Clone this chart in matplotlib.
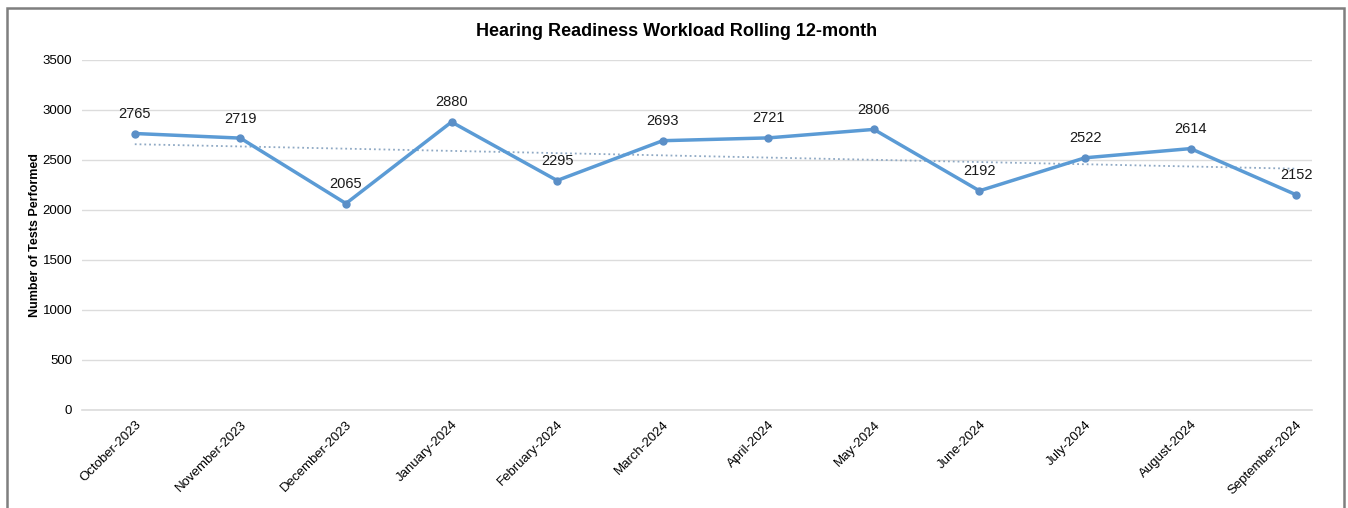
import numpy as np
import matplotlib
matplotlib.use('Agg')
import matplotlib.pyplot as plt
from matplotlib.patches import Rectangle

plt.rcParams['font.family'] = ['Liberation Sans', 'DejaVu Sans']

# Daten
months = ['October-2023', 'November-2023', 'December-2023', 'January-2024',
          'February-2024', 'March-2024', 'April-2024', 'May-2024',
          'June-2024', 'July-2024', 'August-2024', 'September-2024']
tests = [2765, 2719, 2065, 2880, 2295, 2693, 2721, 2806, 2192, 2522, 2614, 2152]
yticks = [0, 500, 1000, 1500, 2000, 2500, 3000, 3500]

fig = plt.figure(figsize=(13.48, 5.08), dpi=100)
ax = fig.add_axes([82 / 1348, 1 - 410 / 508, (1312 - 82) / 1348, 350 / 508])

x = np.arange(len(months))

# linearer Trend
k, d = np.polyfit(x, tests, 1)
ax.plot(x, k * x + d, linestyle=':', color='#8fa9c4', linewidth=1.3, zorder=2)

ax.plot(x, tests, color='#5b9bd5', linewidth=2.5, marker='o', markersize=5,
        markerfacecolor='#5b8fc7', markeredgecolor='#5b8fc7', zorder=3)

for xi, v in zip(x, tests):
    ax.annotate(str(v), (xi, v), xytext=(0, 9), textcoords='offset points',
                ha='center', va='bottom', fontsize=10.5, color='#1a1a1a')

ax.set_xlim(-0.5, 11.15)
ax.set_ylim(0, 3500)
ax.set_yticks(yticks)
ax.set_xticks(x)
ax.set_xticklabels(months, rotation=45, ha='right', rotation_mode='anchor', fontsize=9.5)
ax.tick_params(axis='y', labelsize=9.5, length=0, pad=7)
ax.tick_params(axis='x', length=0, pad=6)
ax.yaxis.grid(True, color='#dcdcdc', linewidth=1)
ax.axhline(0, color='#dcdcdc', linewidth=1.2, zorder=1, clip_on=False)
ax.set_axisbelow(True)
for s in ax.spines.values():
    s.set_visible(False)

ax.set_ylabel('Number of Tests Performed', fontsize=9, fontweight='bold', labelpad=1)
fig.text(677 / 1348, 1 - 31 / 508, 'Hearing Readiness Workload Rolling 12-month',
         ha='center', va='center', fontsize=13, fontweight='bold')

# Rahmen
fig.patches.append(Rectangle((7 / 1348, -0.01), (1344 - 7) / 1348, 1 - 8 / 508 + 0.01,
                             transform=fig.transFigure, fill=False,
                             edgecolor='#7f7f7f', linewidth=1.8))

fig.savefig('out.png', dpi=100)
